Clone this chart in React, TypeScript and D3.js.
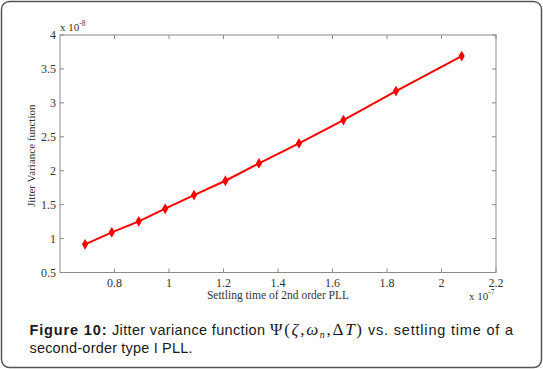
import * as d3 from "d3";

const WIDTH = 543;
const HEIGHT = 369;
const PLOT = { left: 60, right: 496, top: 35, bottom: 272.5 };

// settling time (x 1e-7) and jitter variance (x 1e-8)
const settlingTime = [0.692, 0.79, 0.889, 0.986, 1.092, 1.207, 1.33, 1.477, 1.64, 1.833, 2.074];
const jitterVariance = [0.915, 1.092, 1.254, 1.44, 1.641, 1.852, 2.108, 2.403, 2.746, 3.173, 3.689];
const xTicks = [0.8, 1, 1.2, 1.4, 1.6, 1.8, 2, 2.2];
const yTicks = [0.5, 1, 1.5, 2, 2.5, 3, 3.5, 4];

const SERIF = "'Liberation Serif', 'DejaVu Serif', serif";
const SANS = "'Liberation Sans', Arial, sans-serif";

export default function App() {
  const x = d3.scaleLinear().domain([0.6, 2.2]).range([PLOT.left, PLOT.right]);
  const y = d3.scaleLinear().domain([0.5, 4]).range([PLOT.bottom, PLOT.top]);

  const points = settlingTime.map((t, i) => [t, jitterVariance[i]] as [number, number]);
  const line = d3
    .line<[number, number]>()
    .x((d) => x(d[0]))
    .y((d) => y(d[1]));
  const marker = d3.symbol().type(d3.symbolDiamond).size(18)();

  const tickLen = 4;
  const axisColor = "#8a8a8a";
  const labelColor = "#333";
  const captionColor = "#1a1a1a";

  return (
    <svg
      width={WIDTH}
      height={HEIGHT}
      style={{ position: "absolute", left: 0, top: 0 }}
    >
      <rect x={0} y={0} width={WIDTH} height={HEIGHT} fill="#fff" />
      <rect
        x={1.5}
        y={1.5}
        width={WIDTH - 3}
        height={HEIGHT - 3}
        rx={8}
        fill="#fff"
        stroke="#555"
        strokeWidth={1.5}
      />

      {/* axes box */}
      <rect
        x={PLOT.left}
        y={PLOT.top}
        width={PLOT.right - PLOT.left}
        height={PLOT.bottom - PLOT.top}
        fill="none"
        stroke={axisColor}
        strokeWidth={1}
      />

      {/* x ticks */}
      {xTicks.map((t) => (
        <g key={"x" + t}>
          <line x1={x(t)} x2={x(t)} y1={PLOT.bottom} y2={PLOT.bottom - tickLen} stroke={axisColor} />
          <line x1={x(t)} x2={x(t)} y1={PLOT.top} y2={PLOT.top + tickLen} stroke={axisColor} />
          <text
            x={x(t)}
            y={PLOT.bottom + 14}
            textAnchor="middle"
            fontFamily={SERIF}
            fontSize={12}
            fill={labelColor}
          >
            {t}
          </text>
        </g>
      ))}

      {/* y ticks */}
      {yTicks.map((t) => (
        <g key={"y" + t}>
          <line x1={PLOT.left} x2={PLOT.left + tickLen} y1={y(t)} y2={y(t)} stroke={axisColor} />
          <line x1={PLOT.right} x2={PLOT.right - tickLen} y1={y(t)} y2={y(t)} stroke={axisColor} />
          <text
            x={PLOT.left - 4}
            y={y(t) + 4}
            textAnchor="end"
            fontFamily={SERIF}
            fontSize={12}
            fill={labelColor}
          >
            {t}
          </text>
        </g>
      ))}

      {/* exponents */}
      <text x={PLOT.left} y={31} fontFamily={SERIF} fontSize={11} fill={labelColor}>
        x 10<tspan dy={-5} fontSize={7.5}>-8</tspan>
      </text>
      <text x={469} y={300} fontFamily={SERIF} fontSize={11} fill={labelColor}>
        x 10<tspan dy={-5} fontSize={7.5}>-7</tspan>
      </text>

      {/* axis labels */}
      <text
        x={(PLOT.left + PLOT.right) / 2}
        y={299}
        textAnchor="middle"
        fontFamily={SERIF}
        fontSize={11.5}
        fill={labelColor}
      >
        Settling time of 2nd order PLL
      </text>
      <text
        transform={`translate(35,${(PLOT.top + PLOT.bottom) / 2 + 2}) rotate(-90)`}
        textAnchor="middle"
        fontFamily={SERIF}
        fontSize={11}
        fill={labelColor}
      >
        Jitter Variance function
      </text>

      {/* data */}
      <path d={line(points) ?? ""} fill="none" stroke="#ff0000" strokeWidth={2} />
      {points.map((p, i) => (
        <path key={i} d={marker ?? ""} transform={`translate(${x(p[0])},${y(p[1])})`} fill="#ff0000" stroke="#ff0000" strokeWidth={1.5} />
      ))}

      {/* caption (justified, so each chunk is placed and stretched) */}
      <text x={29.5} y={335} fontFamily={SANS} fontSize={14.5} fontWeight="bold" fill={captionColor}
        textLength={77} lengthAdjust="spacing">
        Figure 10:
      </text>
      <text x={112} y={335} fontFamily={SANS} fontSize={14.5} fill={captionColor}
        textLength={153} lengthAdjust="spacing">
        Jitter variance function
      </text>
      <text x={270} y={335} fontFamily={SERIF} fontSize={17} fill={captionColor}
        textLength={92} lengthAdjust="spacing">
        {"Ψ("}
        <tspan fontStyle="italic">ζ</tspan>
        {","}
        <tspan fontStyle="italic">ω</tspan>
        <tspan fontStyle="italic" fontSize={10} dy={3}>n</tspan>
        <tspan dy={-3}>{",Δ"}</tspan>
        <tspan fontStyle="italic">T</tspan>
        {")"}
      </text>
      <text x={368} y={335} fontFamily={SANS} fontSize={14.5} fill={captionColor}
        textLength={145} lengthAdjust="spacing">
        vs. settling time of a
      </text>
      <text x={29.5} y={353} fontFamily={SANS} fontSize={14.5} fill={captionColor}
        textLength={163} lengthAdjust="spacing">
        second-order type I PLL.
      </text>
    </svg>
  );
}
